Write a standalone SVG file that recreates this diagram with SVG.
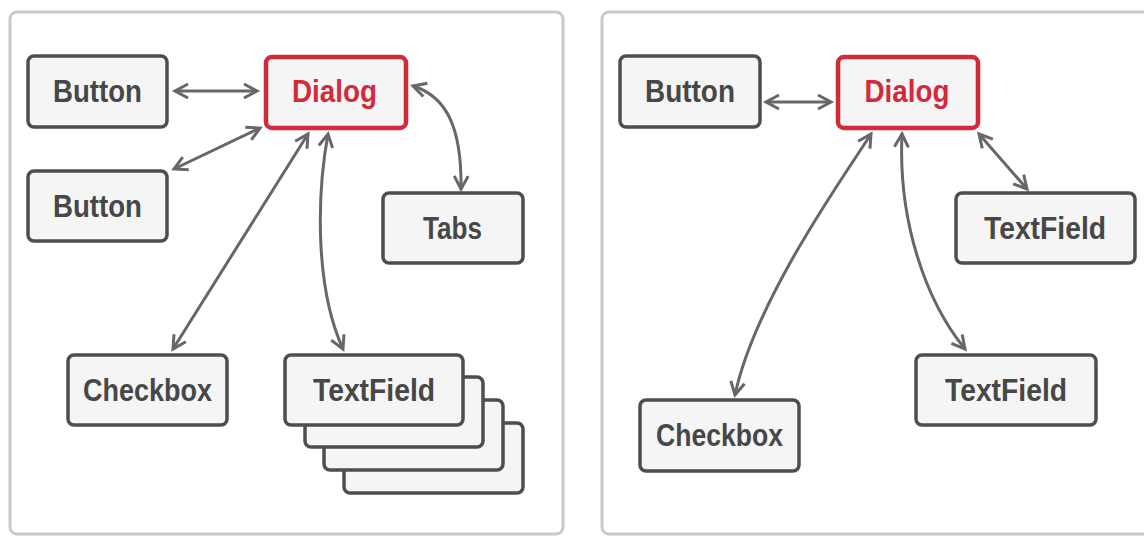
<svg xmlns="http://www.w3.org/2000/svg" width="1144" height="536" viewBox="0 0 1144 536">
  <defs>
    <style>
      .panel { fill: #ffffff; stroke: #c9c9c9; stroke-width: 3; }
      .box { fill: #f5f5f5; stroke: #4e4e4e; stroke-width: 3.5; }
      .box.main { stroke: #d22a3a; stroke-width: 4.5; }
      .label { font-family: "Liberation Sans", Arial, sans-serif; font-weight: bold; font-size: 32px; fill: #474747; text-anchor: middle; }
      .label.main { fill: #d22a3a; }
      .link { fill: none; stroke: #676767; stroke-width: 3; marker-start: url(#tip); marker-end: url(#tip); }
    </style>
    <marker id="tip" viewBox="-18 -10 22 20" refX="0" refY="0" markerWidth="22" markerHeight="20" markerUnits="userSpaceOnUse" orient="auto-start-reverse" overflow="visible">
      <path d="M-13,-7 L0,0 L-13,7" fill="none" stroke="#676767" stroke-width="3"/>
    </marker>
  </defs>

  <!-- panels -->
  <rect class="panel" x="10" y="12" width="553" height="522" rx="7"/>
  <rect class="panel" x="602" y="12" width="570" height="522" rx="7"/>

  <!-- connectors -->
  <g id="connectors">
    <path class="link" d="M175,91 L257,91"/>
    <path class="link" d="M174,169 L260,128"/>
    <path class="link" d="M173,349 L308,134"/>
    <path class="link" d="M328,134 C316,200 316,290 343,349"/>
    <path class="link" d="M413,86 C445,96 462,125 461,189"/>
    <path class="link" d="M766,102 L831,102"/>
    <path class="link" d="M871,134 C845,175 755,300 735,395"/>
    <path class="link" d="M902,134 C898,220 925,300 965,349"/>
    <path class="link" d="M979,134 L1027,189"/>
  </g>

  <!-- first layout -->
  <g id="button-a">
    <rect class="box" x="28" y="56" width="139" height="71" rx="6"/>
    <text class="label" x="97.5" y="102" textLength="89" lengthAdjust="spacingAndGlyphs">Button</text>
  </g>
  <g id="button-b">
    <rect class="box" x="28" y="171" width="139" height="70" rx="6"/>
    <text class="label" x="97.5" y="217" textLength="89" lengthAdjust="spacingAndGlyphs">Button</text>
  </g>
  <g id="dialog-a">
    <rect class="box main" x="266" y="57" width="140" height="71" rx="6"/>
    <text class="label main" x="334.5" y="102" textLength="85" lengthAdjust="spacingAndGlyphs">Dialog</text>
  </g>
  <g id="tabs">
    <rect class="box" x="383" y="193" width="140" height="70" rx="6"/>
    <text class="label" x="452.5" y="239" textLength="59" lengthAdjust="spacingAndGlyphs">Tabs</text>
  </g>
  <g id="checkbox-a">
    <rect class="box" x="68" y="355" width="159" height="70" rx="6"/>
    <text class="label" x="147.5" y="401" textLength="129" lengthAdjust="spacingAndGlyphs">Checkbox</text>
  </g>
  <g id="textfield-stack">
    <rect class="box" x="344" y="423" width="179" height="70" rx="6"/>
    <rect class="box" x="324" y="400" width="179" height="70" rx="6"/>
    <rect class="box" x="305" y="377" width="178" height="70" rx="6"/>
    <rect class="box" x="285" y="355" width="178" height="70" rx="6"/>
    <text class="label" x="374" y="401" textLength="122" lengthAdjust="spacingAndGlyphs">TextField</text>
  </g>

  <!-- second layout -->
  <g id="button-c">
    <rect class="box" x="620" y="56" width="140" height="71" rx="6"/>
    <text class="label" x="690" y="102" textLength="90" lengthAdjust="spacingAndGlyphs">Button</text>
  </g>
  <g id="dialog-b">
    <rect class="box main" x="838" y="57" width="140" height="71" rx="6"/>
    <text class="label main" x="907" y="102" textLength="85" lengthAdjust="spacingAndGlyphs">Dialog</text>
  </g>
  <g id="textfield-b">
    <rect class="box" x="956" y="193" width="179" height="70" rx="6"/>
    <text class="label" x="1045" y="239" textLength="122" lengthAdjust="spacingAndGlyphs">TextField</text>
  </g>
  <g id="textfield-c">
    <rect class="box" x="916" y="355" width="180" height="70" rx="6"/>
    <text class="label" x="1006" y="401" textLength="122" lengthAdjust="spacingAndGlyphs">TextField</text>
  </g>
  <g id="checkbox-b">
    <rect class="box" x="640" y="400" width="159" height="71" rx="6"/>
    <text class="label" x="719.5" y="446" textLength="127" lengthAdjust="spacingAndGlyphs">Checkbox</text>
  </g>
</svg>
